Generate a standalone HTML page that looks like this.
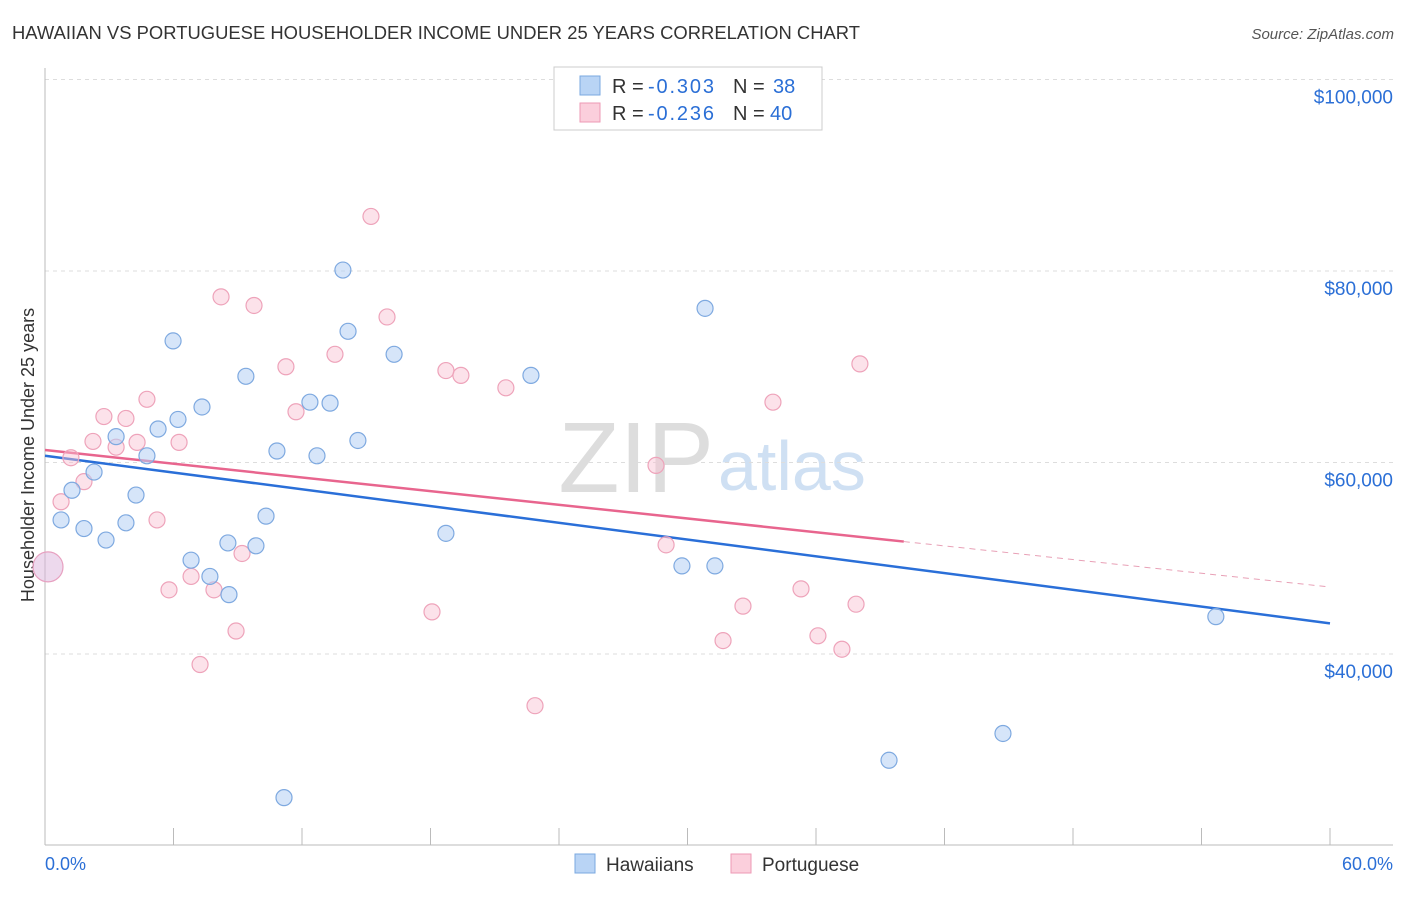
<!DOCTYPE html>
<html><head><meta charset="utf-8"><style>
body{margin:0;background:#fff;font-family:"Liberation Sans",sans-serif}
svg text{font-family:"Liberation Sans",sans-serif}
</style></head><body>
<svg id="c" width="1406" height="892">
<text x="12" y="39" font-size="18.4" fill="#333" textLength="848">HAWAIIAN VS PORTUGUESE HOUSEHOLDER INCOME UNDER 25 YEARS CORRELATION CHART</text>
<text x="1394" y="39" font-size="15" fill="#555" text-anchor="end" font-style="italic">Source: ZipAtlas.com</text>
<text x="714" y="492" font-size="100" fill="#ddd" text-anchor="end" font-family="Liberation Serif">ZIP</text>
<text x="718" y="490" font-size="70" fill="#cfe0f3">atlas</text>
<text transform="translate(34,455) rotate(-90)" font-size="18" fill="#333" text-anchor="middle">Householder Income Under 25 years</text>
<g id="grid"></g><g id="trend"></g><g id="pts"></g>
<g>
<rect x="554" y="67" width="268" height="63" fill="#fff" stroke="#ccc"/>
<rect x="580" y="76" width="20" height="19" fill="#b9d4f5" stroke="#7aa8e0"/>
<rect x="580" y="103" width="20" height="19" fill="#fbcfdc" stroke="#ee9ab5"/>
<text x="612" y="93" font-size="20" fill="#333">R = <tspan x="648" fill="#2b6fd6" textLength="66">-0.303</tspan><tspan x="733">N = </tspan><tspan x="773" fill="#2b6fd6">38</tspan></text>
<text x="612" y="120" font-size="20" fill="#333">R = <tspan x="648" fill="#2b6fd6" textLength="66">-0.236</tspan><tspan x="733">N = </tspan><tspan x="770" fill="#2b6fd6">40</tspan></text>
</g>
<g>
<rect x="575" y="854" width="20" height="19" fill="#b9d4f5" stroke="#7aa8e0"/>
<text x="606" y="871" font-size="19" fill="#333">Hawaiians</text>
<rect x="731" y="854" width="20" height="19" fill="#fbcfdc" stroke="#ee9ab5"/>
<text x="762" y="871" font-size="19" fill="#333">Portuguese</text>
</g>
<text x="45" y="870" font-size="18" fill="#2b6fd6">0.0%</text>
<text x="1393" y="870" font-size="18" fill="#2b6fd6" text-anchor="end">60.0%</text>
</svg>
<script>
const yTicks=[40000,60000,80000,100000];
const yTickLabels=["$40,000","$60,000","$80,000","$100,000"];
const blueX=[0.75,1.26,1.82,2.29,2.85,3.32,3.78,4.25,4.76,5.28,5.98,6.21,6.82,7.33,7.70,8.54,8.59,9.38,9.85,10.32,10.83,11.16,12.37,12.70,13.31,13.91,14.15,14.61,16.30,18.72,22.69,29.74,30.82,31.28,39.41,44.73,54.67];
const blueY=[54.0,57.1,53.1,59.0,51.9,62.7,53.7,56.6,60.7,63.5,72.7,64.5,49.8,65.8,48.1,51.6,46.2,69.0,51.3,54.4,61.2,25.0,66.3,60.7,66.2,80.1,73.7,62.3,71.3,52.6,69.1,49.2,76.1,49.2,28.9,31.7,43.9];
const pinkX=[0.75,1.21,1.82,2.24,2.75,3.32,3.78,4.30,4.76,5.23,5.79,6.26,6.82,7.24,7.89,8.22,8.92,9.20,9.76,11.25,11.72,13.54,15.22,15.97,18.07,18.72,19.42,21.52,22.88,28.53,29.0,31.66,32.59,33.99,35.30,36.09,37.21,37.87,38.05];
const pinkY=[55.9,60.5,58.0,62.2,64.8,61.6,64.6,62.1,66.6,54.0,46.7,62.1,48.1,38.9,46.7,77.3,42.4,50.5,76.4,70.0,65.3,71.3,85.7,75.2,44.4,69.6,69.1,67.8,34.6,59.7,51.4,41.4,45.0,66.3,46.8,41.9,40.5,45.2,70.3];
const bigPoint=[0.14,49.1];
const blueTrend=[60.7,43.2];
const pinkTrend=[61.3,47.0];
const pinkSolidEnd=40.1;
const NS="http://www.w3.org/2000/svg";
const X=v=>45+v/60*1285;
const Y=k=>654-(k-40)*191.5/20;
function mk(t,a,p){const e=document.createElementNS(NS,t);for(const k in a)e.setAttribute(k,a[k]);p.appendChild(e);return e;}
const grid=document.getElementById('grid');
yTicks.forEach((t,i)=>{
 const y=Y(t/1000);
 const l=mk('line',{x1:45,x2:1393,y1:y,y2:y,stroke:'#ddd','stroke-dasharray':'4,4'},grid);
 
 
 const tx=mk('text',{x:1393,y:y+24,'font-size':19,fill:'#2b6fd6','text-anchor':'end'},grid);
 tx.textContent=yTickLabels[i];
 
 
});
mk('line',{x1:45,x2:45,y1:68,y2:845,stroke:'#bbb'},grid);
mk('line',{x1:45,x2:1393,y1:845,y2:845,stroke:'#bbb'},grid);
for(let i=0;i<=10;i++){const x=X(i*6);const t=mk('line',{x1:x,x2:x,y1:828,y2:845,stroke:'#bbb'},grid);
 
 }
const tr=document.getElementById('trend');
let b=mk('line',{x1:X(0),y1:Y(blueTrend[0]),x2:X(60),y2:Y(blueTrend[1]),stroke:'#2a6fd8','stroke-width':2.5},tr);


const pAt=x=>pinkTrend[0]+(pinkTrend[1]-pinkTrend[0])*x/60;
let p=mk('line',{x1:X(0),y1:Y(pAt(0)),x2:X(pinkSolidEnd),y2:Y(pAt(pinkSolidEnd)),stroke:'#e8658e','stroke-width':2.5},tr);


let pd=mk('line',{x1:X(pinkSolidEnd),y1:Y(pAt(pinkSolidEnd)),x2:X(60),y2:Y(pAt(60)),stroke:'#e8a0b6','stroke-width':1,'stroke-dasharray':'6,5'},tr);


const pts=document.getElementById('pts');
pinkX.forEach((x,i)=>{const c=mk('circle',{cx:X(x),cy:Y(pinkY[i]),r:8,fill:'rgba(248,190,208,0.45)',stroke:'#eea3ba','stroke-width':1.2},pts);
 
 });
blueX.forEach((x,i)=>{const c=mk('circle',{cx:X(x),cy:Y(blueY[i]),r:8,fill:'rgba(180,208,244,0.55)',stroke:'#7ea9e0','stroke-width':1.2},pts);
 
 });
const bp=mk('circle',{cx:X(bigPoint[0]),cy:Y(bigPoint[1]),r:15,fill:'rgba(220,180,220,0.5)',stroke:'#e7a0c0','stroke-width':1.2},pts);


</script>
</body></html>
